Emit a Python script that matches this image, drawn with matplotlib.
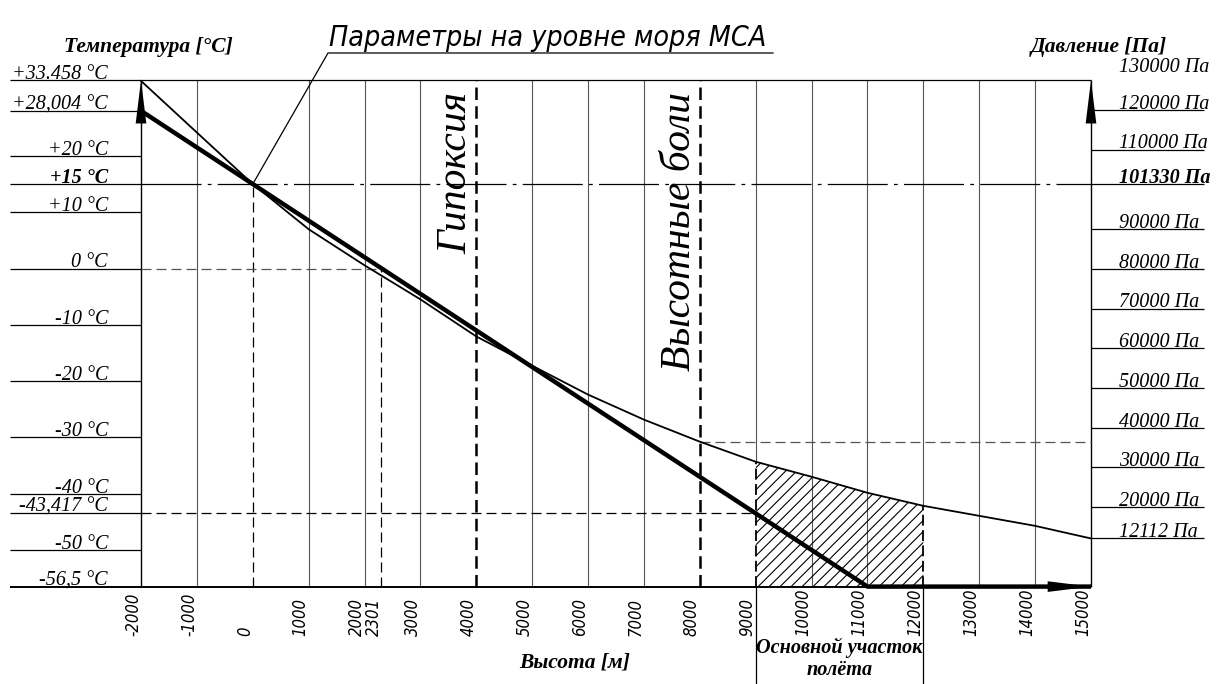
import matplotlib
matplotlib.use("Agg")
import matplotlib.pyplot as plt
import numpy as np

# ---- data ----
ALT_TICKS = [-2000, -1000, 0, 1000, 2000, 2301, 3000, 4000, 5000, 6000, 7000,
             8000, 9000, 10000, 11000, 12000, 13000, 14000, 15000]
ALT_LABELS = [str(a) for a in ALT_TICKS]

TEMP_TICKS = [33.458, 28.004, 20, 15, 10, 0, -10, -20, -30, -40, -43.417, -50, -56.5]
TEMP_LABELS = ["+33.458 °C", "+28,004 °C", "+20 °C", "+15 °C", "+10 °C", "0 °C",
               "-10 °C", "-20 °C", "-30 °C", "-40 °C", "-43,417 °C", "-50 °C", "-56,5 °C"]

PRESS_TICKS = [130000, 120000, 110000, 101330, 90000, 80000, 70000, 60000,
               50000, 40000, 30000, 20000, 12112]
PRESS_LABELS = [f"{p} Па" for p in PRESS_TICKS]

# temperature (thick line)
TEMP_ALT = [-2000, 11000, 15000]
TEMP_VAL = [28.004, -56.5, -56.5]

# pressure (thin curve)
PRESS_ALT = [-2000, -1000, 0, 1000, 2000, 3000, 4000, 5000, 6000, 7000, 8000,
             9000, 10000, 11000, 12000, 13000, 14000, 15000]
PRESS_VAL = [127300, 114300, 101330, 89960, 80880, 72300, 62970, 55600, 48330,
             42030, 36480, 31430, 27650, 23610, 20330, 17810, 15290, 12112]

SEA_T, SEA_P = 15, 101330
ZERO_C_ALT = 2301
T_AT_9000 = -43.417
HYPOXIA_ALT = 4000
PAIN_ALT = 8000
ZONE = (9000, 12000)

T_TOP, T_BOT = TEMP_TICKS[0], TEMP_TICKS[-1]
H_MIN, H_MAX = ALT_TICKS[0], ALT_TICKS[-1]

# ---- page layout (pixels of the drawing) ----
W, H = 1217, 684
PX_L, PX_R = 141, 1091
PX_PER_M = (PX_R - PX_L) / (H_MAX - H_MIN)
PY_ZERO, PX_PER_C = 268.5, 5.63


def hx(px):
    return H_MIN + (px - PX_L) / PX_PER_M


def ty(py):
    return (PY_ZERO - py) / PX_PER_C


def p2t(p):
    # pressure scale: 0 Pa at the bottom line, sea level pressure on the +15 line
    return T_BOT + (SEA_T - T_BOT) * np.asarray(p, dtype=float) / SEA_P


SERIF = "Liberation Serif"
GOST = dict(family="DejaVu Sans", style="italic", stretch="condensed")
GRID = "#555555"

fig = plt.figure(figsize=(W / 100, H / 100), dpi=100)
ax = fig.add_axes([0, 0, 1, 1])
ax.set_xlim(hx(0), hx(W))
ax.set_ylim(ty(H), ty(0))
ax.axis("off")

press_t = p2t(PRESS_VAL)

# vertical grid
special = {H_MIN, H_MAX, 0, ZERO_C_ALT, HYPOXIA_ALT, PAIN_ALT}
for a in ALT_TICKS:
    if a in special:
        continue
    if a in ZONE:
        top_of_hatch = np.interp(a, PRESS_ALT, press_t)
        ax.vlines(a, top_of_hatch, T_TOP, color=GRID, lw=0.8)
        ax.vlines(a, T_BOT, top_of_hatch, color="black", lw=1.3,
                  linestyles=(0, (6, 2.5)))
        ax.vlines(a, ty(H), T_BOT, color="black", lw=0.9)
    else:
        ax.vlines(a, T_BOT, T_TOP, color=GRID, lw=0.8)

# border / axes
ax.hlines(T_TOP, hx(10), H_MAX, color="black", lw=0.9)
ax.hlines(T_BOT, hx(10), H_MAX, color="black", lw=1.4)
ax.vlines([H_MIN, H_MAX], T_BOT, T_TOP, color="black", lw=1.0)

arrow = dict(arrowstyle="-|>,head_length=2.6,head_width=0.32", color="black",
             lw=0, mutation_scale=12, shrinkA=0, shrinkB=0)
for a in (H_MIN, H_MAX):
    ax.annotate("", xy=(a, T_TOP), xytext=(a, T_TOP - 12), arrowprops=arrow)
ax.annotate("", xy=(H_MAX, T_BOT), xytext=(H_MAX - 1500, T_BOT), arrowprops=arrow)

# sea level dash-dot line
ax.hlines(SEA_T, hx(10), H_MIN, color="black", lw=0.9)
ax.hlines(SEA_T, H_MIN, H_MAX, color="black", lw=0.9,
          linestyles=(0, (48, 5, 3, 5)))
ax.hlines(SEA_T, H_MAX, hx(1204), color="black", lw=0.9)

# temperature ticks on the left
for t, lab in zip(TEMP_TICKS, TEMP_LABELS):
    if t not in (T_TOP, T_BOT, SEA_T):
        ax.hlines(t, hx(10), H_MIN, color="black", lw=0.9)
    ax.text(hx(108), t + 0.2, lab, ha="right", va="baseline", family=SERIF,
            style="italic", fontsize=14.5,
            fontweight="bold" if t == SEA_T else "normal")

# pressure ticks on the right (top one sits on the frame line)
for p, lab in zip(PRESS_TICKS, PRESS_LABELS):
    if p == PRESS_TICKS[0]:
        yt = T_TOP + 1.2
    elif p == SEA_P:
        yt = SEA_T
    else:
        yt = float(p2t(p))
        ax.hlines(yt, H_MAX, hx(1204), color="black", lw=0.9)
    ax.text(hx(1119), yt + 0.2, lab, ha="left", va="baseline", family=SERIF,
            style="italic", fontsize=14.5,
            fontweight="bold" if p == SEA_P else "normal")

# x tick labels
for a, lab in zip(ALT_TICKS, ALT_LABELS):
    ax.text(a + 20, ty(636), lab, rotation=90, ha="right", va="bottom",
            fontsize=12, **GOST)

# helper dashed lines
dash = (0, (8, 4))
ax.vlines(0, T_BOT, SEA_T, color="black", lw=0.9, linestyles=dash)
ax.hlines(0, H_MIN, ZERO_C_ALT, color=GRID, lw=0.9, linestyles=dash)
ax.vlines(ZERO_C_ALT, T_BOT, 0, color="black", lw=0.9, linestyles=dash)
ax.hlines(T_AT_9000, H_MIN, ZONE[0], color="black", lw=0.9, linestyles=dash)
p8000 = np.interp(PAIN_ALT, PRESS_ALT, press_t)
ax.hlines(p8000, PAIN_ALT, H_MAX, color=GRID, lw=0.9, linestyles=dash)

# physiological limits
for a, lab in ((HYPOXIA_ALT, "Гипоксия"), (PAIN_ALT, "Высотные боли")):
    ax.vlines(a, T_BOT, T_TOP, color="black", lw=1.8, linestyles=(0, (5, 2.5)))
    ax.text(a - 20, ty(92), lab, rotation=90, ha="right", va="top",
            family=SERIF, style="italic", fontsize=30)

# hatched main flight zone: 45 degree lines about 11 px apart, clipped
palt = np.array(PRESS_ALT)
zmask = (palt >= ZONE[0]) & (palt <= ZONE[1])
zone_x = np.concatenate([[ZONE[0]], palt[zmask], [ZONE[1]]])
zone_y = np.concatenate([[T_BOT], press_t[zmask], [T_BOT]])
clip = plt.Polygon(np.column_stack([zone_x, zone_y]), closed=True,
                   facecolor="none", edgecolor="none")
ax.add_patch(clip)
slope = PX_PER_M / PX_PER_C          # data units for a 45 degree line
step = 11 / PX_PER_M
for x0 in np.arange(ZONE[0] - 3500, ZONE[1] + step, step):
    ln, = ax.plot([x0, x0 + 4000], [T_BOT, T_BOT + 4000 * slope],
                  color="black", lw=0.8)
    ln.set_clip_path(clip)

# curves
ax.plot(PRESS_ALT, press_t, color="black", lw=1.3, solid_joinstyle="round")
ax.plot(TEMP_ALT, TEMP_VAL, color="black", lw=3.2, solid_capstyle="butt")

# leader to sea-level point
ax.plot([0, hx(328), hx(773)], [SEA_T, ty(53), ty(53)], color="black", lw=0.9)
ax.text(hx(548), ty(46), "Параметры на уровне моря МСА", ha="center",
        va="baseline", fontsize=20.5, **GOST)

# axis titles
bold = dict(family=SERIF, style="italic", fontweight="bold")
ax.text(hx(148), ty(47), "Температура [°C]", ha="center", va="center",
        fontsize=15.5, **bold)
ax.text(hx(1099), ty(47), "Давление [Па]", ha="center", va="center",
        fontsize=15.5, **bold)
ax.text(hx(575), ty(663), "Высота [м]", ha="center", va="center",
        fontsize=15.5, **bold)
ax.text(sum(ZONE) / 2, ty(659), "Основной участок\nполёта", ha="center",
        va="center", linespacing=1.1, fontsize=14.6, **bold)

fig.savefig("out.png", dpi=100)
